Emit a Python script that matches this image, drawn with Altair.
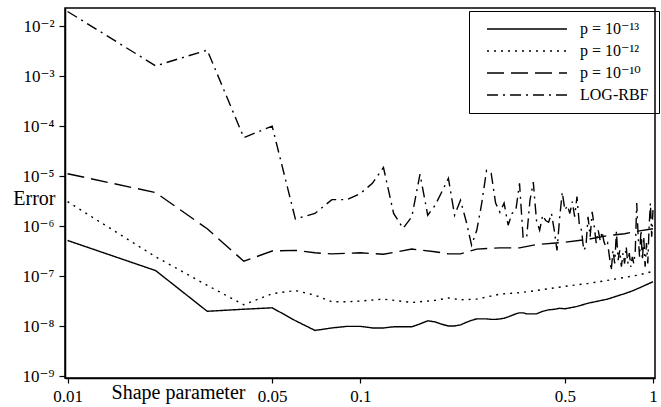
import altair as alt
import pandas as pd

# ---- data ----
SERIES = ["p = 10⁻¹³", "p = 10⁻¹²", "p = 10⁻¹⁰", "LOG-RBF"]

X_P13 = [0.01, 0.02, 0.03, 0.04, 0.05, 0.06, 0.07, 0.08, 0.09, 0.10, 0.11, 0.12, 0.13, 0.14,
         0.15, 0.16, 0.17, 0.18, 0.19, 0.20, 0.21, 0.22, 0.23, 0.24, 0.25, 0.26, 0.27, 0.28,
         0.29, 0.30, 0.31, 0.32, 0.33, 0.34, 0.35, 0.36, 0.37, 0.38, 0.39, 0.40, 0.42, 0.44,
         0.46, 0.48, 0.50, 0.55, 0.60, 0.65, 0.70, 0.75, 0.80, 0.85, 0.90, 0.95, 1.00]
Y_P13 = [5.2e-7, 1.3e-7, 2.0e-8, 2.2e-8, 2.35e-8, 1.3e-8, 8.3e-9, 9.3e-9, 1.0e-8, 1.0e-8,
         9.3e-9, 9.3e-9, 9.8e-9, 9.8e-9, 9.8e-9, 1.12e-8, 1.29e-8, 1.23e-8, 1.1e-8, 1.02e-8,
         1.02e-8, 1.07e-8, 1.2e-8, 1.32e-8, 1.41e-8, 1.41e-8, 1.41e-8, 1.38e-8, 1.38e-8,
         1.41e-8, 1.45e-8, 1.55e-8, 1.66e-8, 1.78e-8, 1.86e-8, 1.86e-8, 1.78e-8, 1.78e-8,
         1.78e-8, 1.78e-8, 2.0e-8, 2.14e-8, 2.19e-8, 2.3e-8, 2.24e-8, 2.5e-8, 2.9e-8, 3.2e-8,
         3.5e-8, 4.0e-8, 4.5e-8, 5.1e-8, 5.9e-8, 6.8e-8, 7.8e-8]

X_P12 = [0.01, 0.02, 0.03, 0.04, 0.05, 0.06, 0.07, 0.08, 0.09, 0.10, 0.12, 0.15, 0.18, 0.20,
         0.22, 0.25, 0.30, 0.35, 0.40, 0.50, 0.60, 0.70, 0.80, 0.90, 1.00]
Y_P12 = [3.1e-6, 2.45e-7, 6.6e-8, 2.7e-8, 4.5e-8, 5.2e-8, 4.2e-8, 3.1e-8, 3.1e-8, 3.2e-8,
         3.5e-8, 3.0e-8, 3.3e-8, 3.7e-8, 3.4e-8, 3.5e-8, 4.4e-8, 4.7e-8, 5.2e-8, 6.3e-8,
         7.2e-8, 8.3e-8, 9.5e-8, 1.07e-7, 1.26e-7]

X_P10 = [0.01, 0.02, 0.03, 0.04, 0.05, 0.06, 0.07, 0.08, 0.10, 0.12, 0.15, 0.18, 0.20, 0.22,
         0.25, 0.30, 0.35, 0.40, 0.50, 0.60, 0.70, 0.80, 0.90, 1.00]
Y_P10 = [1.12e-5, 4.7e-6, 8.9e-7, 2.0e-7, 3.2e-7, 3.3e-7, 2.95e-7, 2.8e-7, 2.95e-7, 2.75e-7,
         3.5e-7, 3.1e-7, 2.8e-7, 2.8e-7, 3.5e-7, 3.7e-7, 3.7e-7, 4.3e-7, 4.8e-7, 5.5e-7,
         6.5e-7, 7.1e-7, 8.1e-7, 8.9e-7]

X_LOG = [0.01, 0.02, 0.03, 0.04, 0.05, 0.06, 0.07, 0.08, 0.09, 0.10,
         0.11, 0.12, 0.13, 0.14, 0.15, 0.16, 0.17, 0.18, 0.19, 0.20,
         0.21, 0.22, 0.23, 0.24, 0.25, 0.26, 0.27, 0.28, 0.29, 0.30,
         0.31, 0.32, 0.33, 0.34, 0.35, 0.36, 0.37, 0.38, 0.39, 0.40,
         0.41, 0.42, 0.43, 0.44, 0.45, 0.46, 0.47, 0.48, 0.49, 0.50,
         0.51, 0.52, 0.53, 0.54, 0.55, 0.56, 0.57, 0.58, 0.59, 0.60,
         0.61, 0.62, 0.63, 0.64, 0.65, 0.66, 0.67, 0.68, 0.69, 0.70,
         0.71, 0.72, 0.73, 0.74, 0.75, 0.76, 0.77, 0.78, 0.79, 0.80,
         0.81, 0.82, 0.83, 0.84, 0.85, 0.86, 0.87, 0.88, 0.89, 0.90,
         0.91, 0.92, 0.93, 0.94, 0.95, 0.96, 0.97, 0.98, 0.99, 1.00]
Y_LOG = [1.95e-2, 1.6e-3, 3.3e-3, 5.9e-5, 1.0e-4, 1.4e-6, 1.8e-6, 3.4e-6, 3.4e-6, 4.5e-6,
         7.2e-6, 1.5e-5, 1.8e-6, 9.1e-7, 1.55e-6, 1.1e-5, 1.66e-6, 2.6e-6, 4.9e-6, 9.1e-6,
         1.66e-6, 3.3e-6, 1.26e-6, 4.2e-7, 8.3e-7, 2.9e-6, 1.3e-5, 1.15e-5, 2.9e-6, 1.9e-6,
         2.9e-6, 1.05e-6, 1.8e-6, 2.1e-6, 7.2e-6, 6.0e-7, 5.8e-7, 3.3e-6, 7.6e-6, 1.3e-6,
         8.3e-7, 1.66e-6, 1.3e-6, 1.2e-6, 1.8e-6, 8.3e-7, 3.3e-7, 1.5e-6, 4.8e-6, 2.1e-6,
         2.6e-6, 1.8e-6, 3.1e-6, 1.55e-6, 3.9e-6, 1.1e-6, 8.3e-7, 3.3e-7, 3.9e-7, 1.55e-6,
         6.2e-7, 1.95e-6, 9.8e-7, 4.6e-7, 8.3e-7, 5.2e-7, 7.8e-7, 4.9e-7, 3.9e-7, 4.6e-7,
         2.45e-7, 1.3e-7, 3.3e-7, 1.8e-7, 7.8e-7, 2.1e-7, 3.3e-7, 1.55e-7, 2.9e-7, 1.8e-7,
         3.9e-7, 1.8e-7, 2.9e-7, 1.55e-7, 2.45e-7, 1.8e-7, 3.3e-7, 2.9e-6, 6.2e-7, 2.45e-7,
         8.3e-7, 2.1e-7, 6.2e-7, 1.55e-7, 4.6e-7, 1.8e-7, 9.8e-7, 2.9e-6, 6.2e-7, 2.1e-6]

X_TICKS = [0.01, 0.05, 0.1, 0.5, 1]
X_LABELS = ["0.01", "0.05", "0.1", "0.5", "1"]
Y_TICKS = [1e-9, 1e-8, 1e-7, 1e-6, 1e-5, 1e-4, 1e-3, 1e-2]
Y_LABELS = ["10⁻⁹", "10⁻⁸", "10⁻⁷", "10⁻⁶", "10⁻⁵", "10⁻⁴", "10⁻³", "10⁻²"]

DASHES = [[1, 0], [2, 5], [17, 7], [11, 5, 2, 5]]

# ---- table ----
rows = []
for name, xs, ys in zip(SERIES, [X_P13, X_P12, X_P10, X_LOG], [Y_P13, Y_P12, Y_P10, Y_LOG]):
    for i, (xv, yv) in enumerate(zip(xs, ys)):
        rows.append({"x": xv, "y": yv, "series": name, "order": i})
df = pd.DataFrame(rows)

FONT = "Liberation Serif, DejaVu Serif, serif"

def arr(lst):
    return "[" + ",".join("'" + s + "'" for s in lst) + "]"

x_label_expr = arr(X_LABELS) + "[indexof([" + ",".join(repr(v) for v in X_TICKS) + "], datum.value)]"
y_label_expr = arr(Y_LABELS) + "[round(log(datum.value)/LN10) + 9]"

chart = alt.Chart(df).mark_line(color="black", strokeWidth=1.4, clip=True).encode(
    x=alt.X("x:Q",
            scale=alt.Scale(type="log", domain=[0.0098, 1.016], nice=False),
            axis=alt.Axis(values=X_TICKS, labelExpr=x_label_expr, tickSize=5, labelPadding=5,
                          labelFlush=False, labelOverlap=False, grid=False,
                          title="Shape parameter", titleX=113, titleY=20,
                          titleBaseline="alphabetic", titleAlign="center")),
    y=alt.Y("y:Q",
            scale=alt.Scale(type="log", domain=[9.3e-10, 0.0229], nice=False),
            axis=alt.Axis(values=Y_TICKS, labelExpr=y_label_expr, tickSize=6, labelPadding=5,
                          labelFlush=False, labelOverlap=False, grid=False,
                          title="Error", titleAngle=0, titleAlign="right", titleX=-10,
                          titleY=196, titleBaseline="alphabetic")),
    strokeDash=alt.StrokeDash("series:N",
                              scale=alt.Scale(domain=SERIES, range=DASHES),
                              legend=alt.Legend(title=None, orient="none", legendX=404, legendY=3,
                                                symbolType="M0,0L16,0", symbolSize=100,
                                                symbolStrokeWidth=1.4, symbolStrokeColor="black",
                                                labelFont=FONT, labelFontSize=16, labelColor="black",
                                                labelOffset=85, padding=10, rowPadding=6,
                                                strokeColor="black")),
    order="order:Q",
).properties(
    width=590, height=370,
    background="white",
    autosize=alt.AutoSizeParams(type="none"),
    padding={"left": 65, "top": 8, "right": 6, "bottom": 29},
).configure_view(
    stroke="black", strokeWidth=1.5
).configure_axis(
    labelFont=FONT, labelFontSize=17, labelColor="black",
    titleFont=FONT, titleFontSize=20, titleFontWeight="normal", titleColor="black",
    domainColor="black", domainWidth=1.5, tickColor="black", tickWidth=1.2
)

chart.save("out.html", embed_options={"renderer": "svg", "actions": False})
